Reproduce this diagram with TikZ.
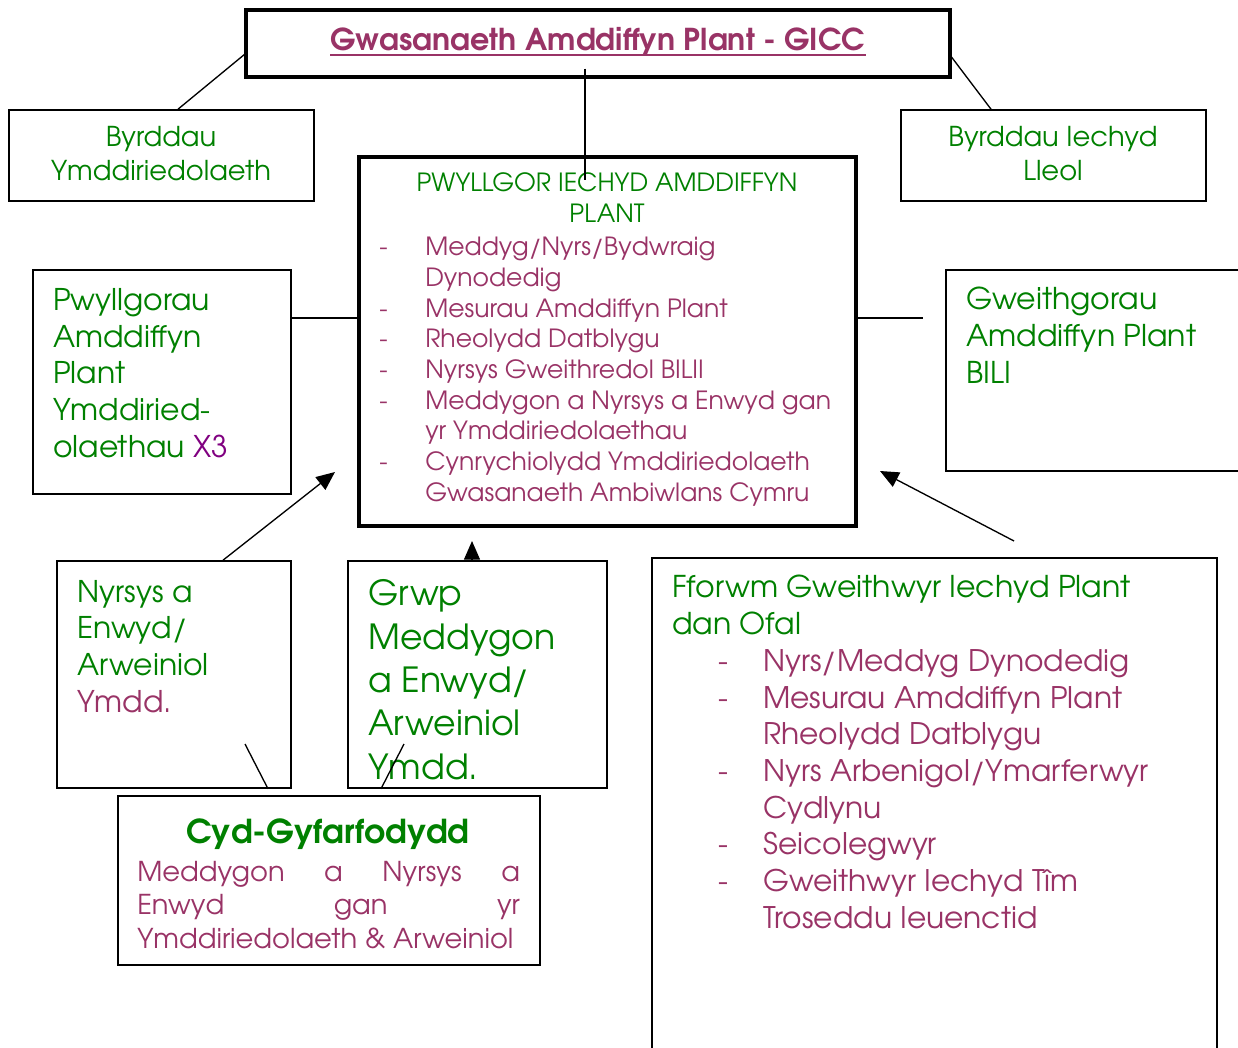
\documentclass[tikz,border=0pt]{standalone}
\usepackage{fontspec}
\setmainfont{TeX Gyre Adventor}
\usetikzlibrary{arrows.meta,fit,calc}

\definecolor{leafgreen}{RGB}{0,128,0}
\definecolor{plum}{RGB}{153,51,102}
\definecolor{grape}{RGB}{128,0,128}

\newcommand\itemdash{\makebox[34.5pt][l]{-}}
\newcommand\itemgap{\hspace*{34.5pt}}
\newcommand\fitemdash{\makebox[33.75pt][l]{-}}
\newcommand\fitemgap{\hspace*{33.75pt}}

\tikzset{
  box/.style = {draw, line width = 1.2pt, inner sep = 0pt},
  bigbox/.style = {draw, line width = 2.4pt, inner sep = 0pt},
  link/.style = {line width = 1pt},
  arrowlink/.style = {line width = 1pt, -{Triangle[length = 14pt, width = 12pt]}},
  % anchor "base" of a multi-line node is the baseline of its last line
  txt/.style = {inner sep = 0pt, anchor = base west, align = left},
  ctxt/.style = {inner sep = 0pt, anchor = base, align = center},
}

\begin{document}
\begin{tikzpicture}[x = 0.75pt, y = -0.75pt]
  \useasboundingbox (0,0) rectangle (1238,1048);

  % boxes
  \node[bigbox, fit = {(246,10) (950,77)}] (gicc) {};
  \node[box, fit = {(9,110) (314,201)}] (trusts) {};
  \node[box, fit = {(901,110) (1206,201)}] (hboards) {};
  \node[bigbox, fit = {(359,157) (856,526)}] (pwyllgor) {};
  \node[box, fit = {(33,270) (291,494)}] (cpcs) {};
  \node[box, fit = {(946,270) (1250,471)}] (bili) {};
  \node[box, fit = {(57,561) (291,788)}] (nyrsys) {};
  \node[box, fit = {(348,561) (607,788)}] (grwp) {};
  \node[box, fit = {(118,796) (540,965)}] (cyd) {};
  \node[box, fit = {(652,558) (1217,1060)}] (fforwm) {};

  % texts (placed at the baseline of their last line)
  \node[ctxt, text = plum, font = \fontsize{22.6}{26}\selectfont\bfseries] (gicc-txt)
    at (598,51) {Gwasanaeth Amddiffyn Plant - GICC};
  \draw[plum, line width = 1.8pt] ($(gicc-txt.base west)+(0,4)$) -- ($(gicc-txt.base east)+(0,4)$);
  \node[ctxt, text = leafgreen, font = \fontsize{20.5}{25.5}\selectfont] (trusts-txt)
    at (161,181) {Byrddau\\Ymddiriedolaeth};
  \node[ctxt, text = leafgreen, font = \fontsize{20.5}{25.5}\selectfont] (hboards-txt)
    at (1053,181) {Byrddau Iechyd\\Lleol};
  \node[ctxt, text = leafgreen, font = \fontsize{18.8}{23.25}\selectfont] (pwyllgor-head)
    at (607,223) {PWYLLGOR IECHYD AMDDIFFYN\\PLANT};
  \node[txt, text = plum, font = \fontsize{18.8}{23}\selectfont] (pwyllgor-list) at (379,501) {%
    \itemdash Meddyg/Nyrs/Bydwraig\\
    \itemgap Dynodedig\\
    \itemdash Mesurau Amddiffyn Plant\\
    \itemdash Rheolydd Datblygu\\
    \itemdash Nyrsys Gweithredol BILII\\
    \itemdash Meddygon a Nyrsys a Enwyd gan\\
    \itemgap yr Ymddiriedolaethau\\
    \itemdash Cynrychiolydd Ymddiriedolaeth\\
    \itemgap Gwasanaeth Ambiwlans Cymru};
  \node[txt, text = leafgreen, font = \fontsize{22.4}{27.5}\selectfont] (cpcs-txt)
    at (53,457) {Pwyllgorau\\Amddiffyn\\Plant\\Ymddiried-\\olaethau \textcolor{grape}{X3}};
  \node[txt, text = leafgreen, font = \fontsize{22.5}{27.5}\selectfont] (bili-txt)
    at (966,383) {Gweithgorau\\Amddiffyn Plant\\BILI};
  \node[txt, text = leafgreen, font = \fontsize{22.4}{27.5}\selectfont] (nyrsys-txt)
    at (77,712) {Nyrsys a\\Enwyd/\\Arweiniol\\\textcolor{plum}{Ymdd.}};
  \node[txt, text = leafgreen, font = \fontsize{26}{32.5}\selectfont] (grwp-txt)
    at (368,779) {Grwp\\Meddygon\\a Enwyd/\\Arweiniol\\Ymdd.};
  \node[ctxt, text = leafgreen, font = \fontsize{24.7}{28}\selectfont\bfseries] (cyd-head)
    at (328,843) {Cyd-Gyfarfodydd};
  \node[txt, text = plum, font = \fontsize{20.5}{25.1}\selectfont] (cyd-txt) at (137,948) {%
    \makebox[287pt][s]{Meddygon a Nyrsys a}\\
    \makebox[287pt][s]{Enwyd gan yr}\\
    Ymddiriedolaeth \& Arweiniol};
  \node[txt, text = leafgreen, font = \fontsize{22.5}{27.5}\selectfont] (fforwm-head)
    at (672,634) {Fforwm Gweithwyr Iechyd Plant\\dan Ofal};
  \node[txt, text = plum, font = \fontsize{22.3}{27.5}\selectfont] (fforwm-list) at (718,928) {%
    \fitemdash Nyrs/Meddyg Dynodedig\\
    \fitemdash Mesurau Amddiffyn Plant\\
    \fitemgap Rheolydd Datblygu\\
    \fitemdash Nyrs Arbenigol/Ymarferwyr\\
    \fitemgap Cydlynu\\
    \fitemdash Seicolegwyr\\
    \fitemdash Gweithwyr Iechyd T\^{\i}m\\
    \fitemgap Troseddu Ieuenctid};

  % free ends
  \coordinate (bili-stub) at (923,318);
  \coordinate (tip-nyrsys) at (335,472);
  \coordinate (tip-grwp) at (472,541);
  \coordinate (tip-fforwm) at (880,471);
  \coordinate (tail-fforwm) at (1014,541);
  \coordinate (nyrsys-stub) at (245,744);
  \coordinate (grwp-stub) at (404,744);

  % connectors
  \draw[link] ($(gicc.west)+(0,11)$) -- ($(trusts.north)+(16.5,0)$);
  \draw[link] ($(gicc.east)+(-2,11)$) -- ($(hboards.north)+(-62.5,0)$);
  \draw[link] ($(gicc.south)+(-13,-10)$) -- ($(pwyllgor.north)+(-22.5,25)$);
  \draw[link] (cpcs.east |- bili-stub) -- (pwyllgor.west |- bili-stub);
  \draw[link] (pwyllgor.east |- bili-stub) -- (bili-stub);
  \draw[arrowlink] ($(nyrsys.north)+(49,0)$) -- (tip-nyrsys);
  \draw[arrowlink] (grwp.north -| tip-grwp) -- (tip-grwp);
  \draw[arrowlink] (tail-fforwm) -- (tip-fforwm);
  \draw[link] (nyrsys-stub) -- ($(nyrsys.south)+(94,0)$);
  \draw[link] (grwp-stub) -- ($(grwp.south)+(-96.5,0)$);
\end{tikzpicture}
\end{document}
